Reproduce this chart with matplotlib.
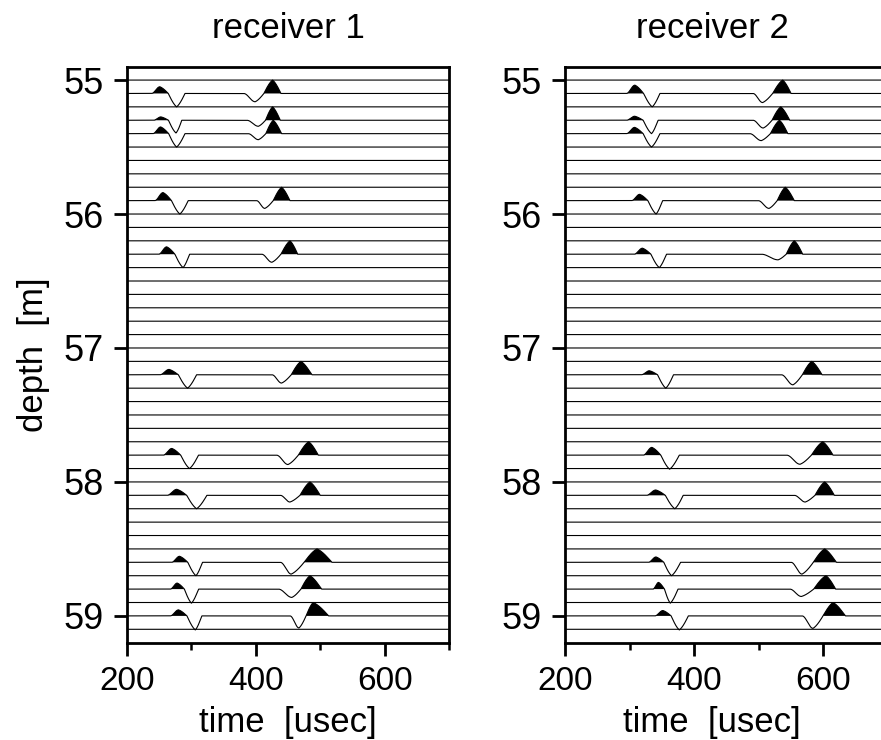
import numpy as np
import matplotlib.pyplot as plt

plt.rcParams["font.family"] = ["Liberation Sans", "DejaVu Sans"]

# recording grid: one trace every 10 cm
TRACE_DEPTHS = np.round(np.arange(55.0, 59.11, 0.1), 1)

# depths where arrivals were picked (same for both receivers)
DEPTHS = [55.1, 55.3, 55.4, 55.9, 56.3, 57.2, 57.8, 58.1, 58.6, 58.8, 59.0]

# receiver 1 -- first arrival (onset, trough, end in usec; amplitudes in m)
P_START_1 = [238, 241, 240, 243, 249, 251, 256, 262, 269, 267, 267]
P_TROUGH_1 = [277, 276, 277, 282, 287, 294, 297, 308, 307, 300, 306]
P_END_1 = [290, 285, 290, 295, 297, 308, 311, 324, 317, 311, 316]
P_PEAK_AMP_1 = [0.05, 0.025, 0.05, 0.06, 0.055, 0.04, 0.05, 0.045, 0.045, 0.045, 0.045]
P_TROUGH_AMP_1 = [0.10, 0.095, 0.10, 0.10, 0.10, 0.10, 0.10, 0.10, 0.10, 0.105, 0.105]
# receiver 1 -- second arrival
S_START_1 = [381, 386, 388, 401, 409, 425, 432, 438, 438, 435, 453]
S_TROUGH_1 = [399, 404, 404, 414, 425, 440, 450, 453, 455, 456, 467]
S_PEAK_1 = [426, 426, 427, 440, 453, 470, 482, 484, 495, 484, 489]
S_END_1 = [439, 438, 440, 453, 465, 487, 497, 500, 518, 502, 513]
S_TROUGH_AMP_1 = [0.062, 0.045, 0.045, 0.058, 0.06, 0.062, 0.07, 0.05, 0.088, 0.062, 0.09]
S_PEAK_AMP_1 = [0.10, 0.10, 0.10, 0.10, 0.10, 0.10, 0.10, 0.10, 0.10, 0.10, 0.10]

# receiver 2 -- first arrival
P_START_2 = [295, 295, 295, 303, 307, 318, 321, 326, 329, 336, 339]
P_TROUGH_2 = [335, 334, 334, 341, 346, 356, 362, 370, 365, 363, 377]
P_END_2 = [347, 344, 347, 351, 357, 368, 377, 383, 379, 375, 391]
P_PEAK_AMP_2 = [0.062, 0.03, 0.047, 0.047, 0.045, 0.03, 0.058, 0.04, 0.04, 0.05, 0.04]
P_TROUGH_AMP_2 = [0.10, 0.10, 0.10, 0.10, 0.10, 0.10, 0.105, 0.10, 0.10, 0.105, 0.105]
# receiver 2 -- second arrival
S_START_2 = [491, 491, 486, 499, 504, 535, 543, 555, 550, 548, 567]
S_TROUGH_2 = [506, 507, 504, 516, 530, 553, 564, 572, 567, 566, 584]
S_PEAK_2 = [537, 534, 532, 541, 555, 582, 599, 602, 602, 604, 615]
S_END_2 = [550, 548, 545, 555, 568, 598, 615, 617, 620, 619, 634]
S_TROUGH_AMP_2 = [0.068, 0.058, 0.052, 0.058, 0.042, 0.075, 0.068, 0.05, 0.088, 0.055, 0.093]
S_PEAK_AMP_2 = [0.10, 0.10, 0.10, 0.10, 0.10, 0.10, 0.10, 0.10, 0.10, 0.10, 0.10]

TITLES = ["receiver 1", "receiver 2"]
X_TICKS = [200, 400, 600]
Y_TICKS = [55, 56, 57, 58, 59]


def knots_curve(t, knots):
    """Wavelet through (time, value) knots: a soft onset, then lobes that
    cross zero steeply and come to a fairly sharp extreme. Zero outside."""
    w = np.zeros_like(t)
    for k, ((t0, v0), (t1, v1)) in enumerate(zip(knots[:-1], knots[1:])):
        m = (t >= t0) & (t <= t1)
        u = (t[m] - t0) / (t1 - t0)
        if k == 0:
            w[m] = v0 + (v1 - v0) * (1 - np.cos(np.pi * u)) / 2
        elif v0 == 0:
            w[m] = v1 * (0.5 * np.sin(np.pi / 2 * u) + 0.5 * u)
        else:
            w[m] = v0 * (0.5 * np.cos(np.pi / 2 * u) + 0.5 * (1 - u))
    return w


def first_arrival(t, t0, tm, te, a_pos, a_neg):
    tc = (t0 + 2 * tm) / 3
    return knots_curve(t, [(t0, 0), ((t0 + tc) / 2, a_pos), (tc, 0), (tm, -a_neg), (te, 0)])


def second_arrival(t, t0, tm, tp, te, a_neg, a_pos):
    tz = (tm + tp) / 2
    return knots_curve(t, [(t0, 0), (tm, -a_neg), (tz, 0), (tp, a_pos), (te, 0)])


def draw_panel(ax, title, p_cols, s_cols, text_x=0.5):
    t = np.linspace(200, 700, 2001)
    events = {}
    for i, d in enumerate(DEPTHS):
        p = [c[i] for c in p_cols]
        s = [c[i] for c in s_cols]
        events[d] = first_arrival(t, *p) + second_arrival(t, *s)

    for d in TRACE_DEPTHS:
        w = events.get(float(d), np.zeros_like(t))
        y = d - w
        ax.fill_between(t, d, y, where=w > 0, interpolate=True, color="black", lw=0)
        ax.plot(t, y, color="black", lw=0.8)

    ax.set_xlim(200, 700)
    ax.set_ylim(59.2, 54.9)
    ax.set_xticks(X_TICKS)
    ax.set_xticks([300, 500, 700], minor=True)
    ax.set_yticks(Y_TICKS)
    ax.tick_params(axis="both", which="major", direction="out", length=9.5, width=2, pad=7)
    ax.tick_params(axis="x", which="minor", direction="out", length=5, width=1.8)
    ax.tick_params(axis="x", labelsize=24)
    ax.tick_params(axis="y", labelsize=26)
    for spine in ax.spines.values():
        spine.set_linewidth(2)
    ax.set_title(title, fontsize=25, pad=21, x=text_x)
    ax.set_xlabel("time  [usec]", fontsize=25, labelpad=7, x=text_x)


fig = plt.figure(figsize=(8.81, 7.40), dpi=100)
ax1 = fig.add_axes([0.1442, 0.1315, 0.3655, 0.7784])
ax2 = fig.add_axes([0.6413, 0.1315, 0.3666, 0.7784])

draw_panel(
    ax1, TITLES[0],
    [P_START_1, P_TROUGH_1, P_END_1, P_PEAK_AMP_1, P_TROUGH_AMP_1],
    [S_START_1, S_TROUGH_1, S_PEAK_1, S_END_1, S_TROUGH_AMP_1, S_PEAK_AMP_1],
)
draw_panel(
    ax2, TITLES[1],
    [P_START_2, P_TROUGH_2, P_END_2, P_PEAK_AMP_2, P_TROUGH_AMP_2],
    [S_START_2, S_TROUGH_2, S_PEAK_2, S_END_2, S_TROUGH_AMP_2, S_PEAK_AMP_2],
    text_x=0.455,
)
ax1.set_ylabel("depth  [m]", fontsize=25, labelpad=10)

fig.savefig("out.png", dpi=100)
